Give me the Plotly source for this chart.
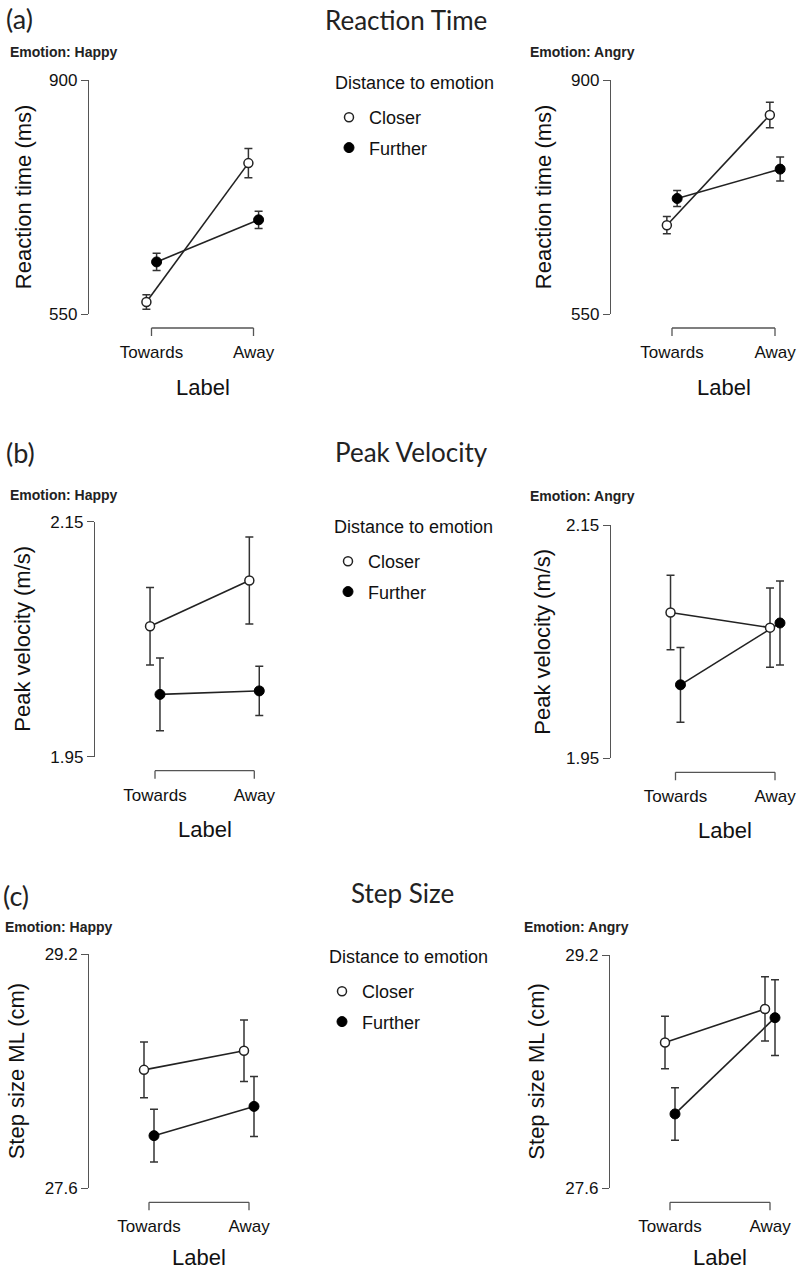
import plotly.graph_objects as go

# ---------------- data ----------------
categories = ["Towards", "Away"]
series_names = ["Closer", "Further"]
emotions = ["Happy", "Angry"]

# Reaction time (ms)
rt_happy_closer = [568, 776]
rt_happy_closer_err = [11, 22]
rt_happy_further = [628, 691]
rt_happy_further_err = [13, 13]
rt_angry_closer = [683, 848]
rt_angry_closer_err = [13, 19]
rt_angry_further = [723, 767]
rt_angry_further_err = [12, 18]
rt_ticks = [550, 900]
rt_ticktext = ["550", "900"]

# Peak velocity (m/s)
pv_happy_closer = [2.061, 2.100]
pv_happy_closer_err = [0.033, 0.037]
pv_happy_further = [2.003, 2.006]
pv_happy_further_err = [0.031, 0.021]
pv_angry_closer = [2.075, 2.062]
pv_angry_closer_err = [0.032, 0.034]
pv_angry_further = [2.013, 2.066]
pv_angry_further_err = [0.032, 0.036]
pv_ticks = [1.95, 2.15]
pv_ticktext = ["1.95", "2.15"]

# Step size ML (cm)
ss_happy_closer = [28.41, 28.54]
ss_happy_closer_err = [0.19, 0.21]
ss_happy_further = [27.96, 28.16]
ss_happy_further_err = [0.18, 0.205]
ss_angry_closer = [28.60, 28.83]
ss_angry_closer_err = [0.18, 0.22]
ss_angry_further = [28.11, 28.77]
ss_angry_further_err = [0.18, 0.26]
ss_ticks = [27.6, 29.2]
ss_ticktext = ["27.6", "29.2"]

row_titles = ["Reaction Time", "Peak Velocity", "Step Size"]
row_letters = ["(a)", "(b)", "(c)"]
y_titles = ["Reaction time (ms)", "Peak velocity (m/s)", "Step size ML (cm)"]
x_title = "Label"
legend_title = "Distance to emotion"

# ---------------- layout constants (pixels) ----------------
W, H = 799, 1272
SANS = "Liberation Sans, Arial, sans-serif"
TITLE_FONT = "Lato, Open Sans, sans-serif"
DODGE = [-0.05, 0.05]

# axis line x, plot top, plot bottom, category0 px, category1 px, y-title x, "Label" y, emotion label x/y
panels = [
    dict(row=0, emo=0, ax=89, top=80.3, bot=314, c0=151.5, c1=253.5, yt=23, ly=387, ex=8, ey=52),
    dict(row=0, emo=1, ax=611, top=80.3, bot=314, c0=672, c1=775, yt=543, ly=387, ex=528, ey=52),
    dict(row=1, emo=0, ax=95, top=521.7, bot=756.7, c0=155, c1=254.3, yt=22.5, ly=829, ex=8, ey=495),
    dict(row=1, emo=1, ax=610.7, top=525, bot=758.3, c0=675.5, c1=775, yt=543, ly=830, ex=528, ey=496),
    dict(row=2, emo=0, ax=89.3, top=954.3, bot=1188.3, c0=149, c1=249, yt=16, ly=1257, ex=3, ey=927),
    dict(row=2, emo=1, ax=610, top=955, bot=1188.3, c0=670, c1=770, yt=537, ly=1257, ex=522, ey=927),
]

panel_data = [
    [(rt_happy_closer, rt_happy_closer_err), (rt_happy_further, rt_happy_further_err)],
    [(rt_angry_closer, rt_angry_closer_err), (rt_angry_further, rt_angry_further_err)],
    [(pv_happy_closer, pv_happy_closer_err), (pv_happy_further, pv_happy_further_err)],
    [(pv_angry_closer, pv_angry_closer_err), (pv_angry_further, pv_angry_further_err)],
    [(ss_happy_closer, ss_happy_closer_err), (ss_happy_further, ss_happy_further_err)],
    [(ss_angry_closer, ss_angry_closer_err), (ss_angry_further, ss_angry_further_err)],
]
row_ticks = [(rt_ticks, rt_ticktext), (pv_ticks, pv_ticktext), (ss_ticks, ss_ticktext)]

# legend title position (left x, centre y) and legend box (left x, top y)
legend_title_pos = [(333, 83), (332, 527), (327, 957)]
legend_specs = [
    dict(x=329, top=99),
    dict(x=328, top=543),
    dict(x=322, top=973),
]
legend_names = ["legend", "legend2", "legend3"]

marker_styles = [
    dict(color="white", size=9, line=dict(color="#222222", width=1.5)),
    dict(color="black", size=10, line=dict(color="black", width=1)),
]

fig = go.Figure()
layout = dict(
    template="none",
    width=W, height=H, autosize=False,
    margin=dict(l=0, r=0, t=0, b=0, pad=0),
    paper_bgcolor="white", plot_bgcolor="white",
    showlegend=True,
    font=dict(family=SANS, color="#111111"),
)
annotations = []
shapes = []


def px_x(v):
    return v / W


def px_y(v):
    return 1 - v / H


for i, p in enumerate(panels):
    n = i + 1
    xa = "xaxis" if n == 1 else f"xaxis{n}"
    ya = "yaxis" if n == 1 else f"yaxis{n}"
    xr = "x" if n == 1 else f"x{n}"
    yr = "y" if n == 1 else f"y{n}"
    s = p["c1"] - p["c0"]
    right = min(p["c1"] + 0.2 * s, W)
    xrange = [(p["ax"] - p["c0"]) / s, (right - p["c0"]) / s]
    ticks, ticktext = row_ticks[p["row"]]
    layout[xa] = dict(
        domain=[px_x(p["ax"]), px_x(right)], range=xrange, anchor=yr,
        tickvals=list(range(len(categories))), ticktext=categories,
        ticks="", showline=False, showgrid=False, zeroline=False, automargin=False,
        tickfont=dict(family=SANS, size=17, color="#111111"),
        ticklabelstandoff=26,
    )
    layout[ya] = dict(
        domain=[px_y(p["bot"]), px_y(p["top"])], range=[ticks[0], ticks[-1]], anchor=xr,
        tickvals=ticks, ticktext=ticktext,
        ticks="outside", ticklen=7, tickwidth=1.3, tickcolor="#555555",
        showline=True, linecolor="#555555", linewidth=1.3,
        showgrid=False, zeroline=False, automargin=False,
        tickfont=dict(family=SANS, size=17, color="#111111"),
    )
    # traces: connecting lines
    for k, (vals, errs) in enumerate(panel_data[i]):
        xs = [j + DODGE[k] for j in range(len(categories))]
        fig.add_trace(go.Scatter(
            x=xs, y=vals, mode="lines", xaxis=xr, yaxis=yr,
            line=dict(color="#222222", width=1.6), showlegend=False, hoverinfo="skip",
        ))
    # traces: points with error bars
    for k, (vals, errs) in enumerate(panel_data[i]):
        xs = [j + DODGE[k] for j in range(len(categories))]
        fig.add_trace(go.Scatter(
            x=xs, y=vals, mode="markers", xaxis=xr, yaxis=yr,
            name=series_names[k], marker=marker_styles[k],
            error_y=dict(type="data", array=errs, visible=True, color="#333333", thickness=1.5, width=4),
            showlegend=(p["emo"] == 0), legend=legend_names[p["row"]],
            legendgroup=f"{series_names[k]}{p['row']}",
        ))
    # x bracket (axis line under categories)
    yb = px_y(p["bot"] + 14)
    yb2 = px_y(p["bot"] + 22)
    bracket = dict(type="line", xref=xr, yref="paper", line=dict(color="#555555", width=1.3))
    shapes.append(dict(bracket, x0=0, x1=len(categories) - 1, y0=yb, y1=yb))
    for j in range(len(categories)):
        shapes.append(dict(bracket, x0=j, x1=j, y0=yb, y1=yb2))
    # y title
    annotations.append(dict(
        text=y_titles[p["row"]], textangle=-90, xref="paper", yref="paper",
        x=px_x(max(p["yt"], 13)), y=px_y((p["top"] + p["bot"]) / 2),
        xanchor="center", yanchor="middle", showarrow=False,
        font=dict(family=SANS, size=22, color="#111111"),
    ))
    # x title
    annotations.append(dict(
        text=x_title, xref=xr, yref="paper", x=(len(categories) - 1) / 2, y=px_y(p["ly"]),
        xanchor="center", yanchor="middle", showarrow=False,
        font=dict(family=SANS, size=22, color="#111111"),
    ))
    # emotion label
    annotations.append(dict(
        text=f"<b>Emotion: {emotions[p['emo']]}</b>", xref="paper", yref="paper",
        x=px_x(p["ex"]), y=px_y(p["ey"]), xanchor="left", yanchor="middle", showarrow=False,
        font=dict(family=SANS, size=14, color="#222222"),
    ))

# row titles and letters
row_title_pos = [(406, 2), (411, 452), (402, 893)]
letter_pos = [(4, 0), (4, 452), (1, 896)]
for r in range(3):
    anchor = "top" if r == 0 else "middle"
    annotations.append(dict(
        text=row_titles[r], xref="paper", yref="paper",
        x=px_x(row_title_pos[r][0]), y=px_y(row_title_pos[r][1]),
        xanchor="center", yanchor=anchor, showarrow=False,
        font=dict(family=TITLE_FONT, size=26, color="#222222"),
    ))
    annotations.append(dict(
        text=row_letters[r], xref="paper", yref="paper",
        x=px_x(letter_pos[r][0]), y=px_y(letter_pos[r][1]),
        xanchor="left", yanchor=anchor, showarrow=False,
        font=dict(family=TITLE_FONT, size=27, color="#222222"),
    ))
    annotations.append(dict(
        text=legend_title, xref="paper", yref="paper",
        x=px_x(legend_title_pos[r][0]), y=px_y(legend_title_pos[r][1]),
        xanchor="left", yanchor="middle", showarrow=False,
        font=dict(family=SANS, size=18, color="#111111"),
    ))

for r, ln in enumerate(legend_names):
    layout[ln] = dict(
        x=px_x(legend_specs[r]["x"]), y=px_y(legend_specs[r]["top"]),
        xanchor="left", yanchor="top",
        font=dict(family=SANS, size=18, color="#111111"),
        bgcolor="rgba(0,0,0,0)", borderwidth=0, tracegroupgap=4,
    )

layout["annotations"] = annotations
layout["shapes"] = shapes
fig.update_layout(**layout)
# remove the default page margin so the 799x1272 figure fills the window exactly
fig.write_html(
    "out.html",
    config={"displayModeBar": False},
    post_script="document.body.style.margin='0px';",
)
